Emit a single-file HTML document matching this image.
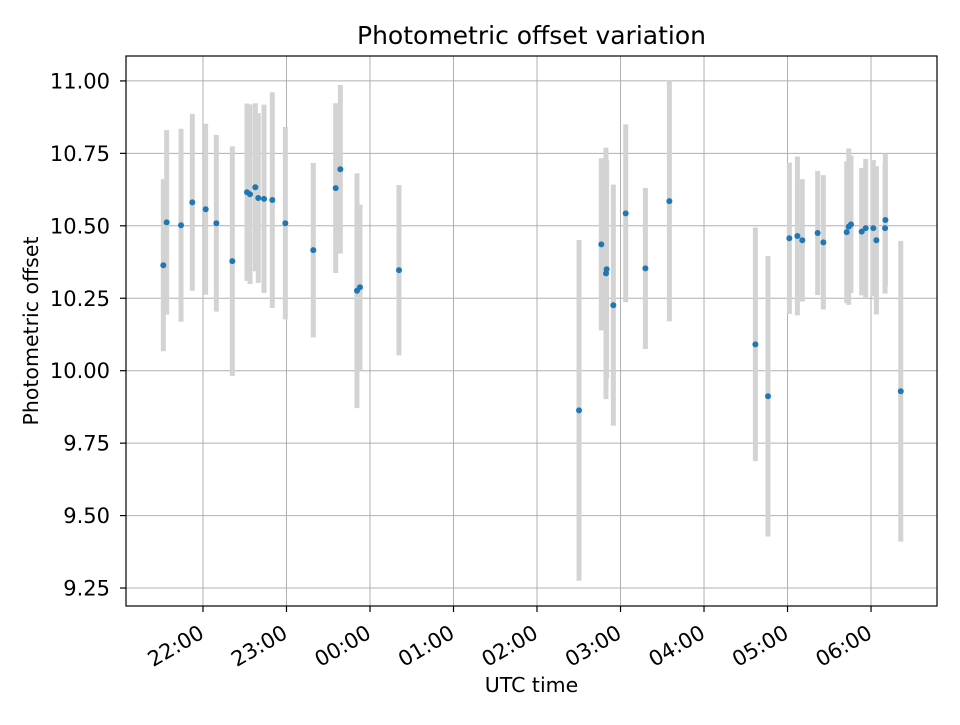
<!DOCTYPE html>
<html><head><meta charset="utf-8"><style>
body{margin:0;background:#fff;}
svg text{font-family:"DejaVu Sans","Liberation Sans",sans-serif;fill:#000;}
</style></head><body>
<svg id="chart" width="960" height="720" xmlns="http://www.w3.org/2000/svg">
<rect width="960" height="720" fill="#fff"/>
<g id="grid"></g><g id="bars"></g><g id="pts"></g><g id="axes"></g>
</svg>
<script>
// hours relative to 22:00
const times=[-0.475,-0.435,-0.263,-0.128,0.032,0.16,0.351,0.527,0.563,0.627,0.662,0.731,0.83,0.986,1.321,1.589,1.645,1.844,1.88,2.347,4.503,4.77,4.834,4.826,4.914,5.062,5.298,5.585,6.615,6.766,7.022,7.118,7.177,7.361,7.429,7.709,7.733,7.76,7.888,7.936,8.027,8.064,8.168,8.172,8.356];
const offsets=[10.364,10.512,10.502,10.581,10.557,10.509,10.378,10.616,10.609,10.633,10.596,10.593,10.589,10.509,10.416,10.63,10.695,10.276,10.288,10.347,9.863,10.436,10.35,10.336,10.226,10.543,10.353,10.585,10.091,9.912,10.457,10.465,10.45,10.475,10.443,10.478,10.497,10.505,10.48,10.492,10.492,10.45,10.492,10.52,9.929];
const errors=[0.297,0.318,0.333,0.305,0.295,0.305,0.396,0.306,0.31,0.29,0.293,0.325,0.372,0.332,0.301,0.293,0.291,0.405,0.285,0.294,0.588,0.297,0.377,0.434,0.416,0.307,0.278,0.415,0.403,0.484,0.261,0.274,0.211,0.214,0.232,0.245,0.27,0.237,0.22,0.239,0.235,0.256,0.226,0.229,0.519];
const xTickLabels=["22:00","23:00","00:00","01:00","02:00","03:00","04:00","05:00","06:00"];
const xTickVals=[0,1,2,3,4,5,6,7,8];
const yTickVals=[9.25,9.5,9.75,10,10.25,10.5,10.75,11];
const yTickLabels=["9.25","9.50","9.75","10.00","10.25","10.50","10.75","11.00"];

const L=126,R=937,T=56,B=606;
const xMin=-0.922,xMax=8.79,yMin=9.188,yMax=11.086;
const X=h=>L+(h-xMin)/(xMax-xMin)*(R-L);
const Y=v=>B-(v-yMin)/(yMax-yMin)*(B-T);
const NS="http://www.w3.org/2000/svg";
function mk(tag,attrs,parent){const e=document.createElementNS(NS,tag);for(const k in attrs)e.setAttribute(k,attrs[k]);parent.appendChild(e);return e;}
const grid=document.getElementById('grid'),bars=document.getElementById('bars'),pts=document.getElementById('pts'),axes=document.getElementById('axes');

xTickVals.forEach((t,i)=>{
  const x=X(t);
  const g=mk('line',{x1:x,x2:x,y1:T,y2:B,stroke:'#b0b0b0','stroke-width':1},grid);
  
  
  mk('line',{x1:x,x2:x,y1:B,y2:B+6,stroke:'#000','stroke-width':1.2},axes);
  const tx=mk('text',{x:0,y:15,'font-size':'21','text-anchor':'end',transform:`translate(${x-5} ${B+18}) rotate(-30)`},axes);
  tx.textContent=xTickLabels[i];
  
  
});
yTickVals.forEach((v,i)=>{
  const y=Y(v);
  const g=mk('line',{x1:L,x2:R,y1:y,y2:y,stroke:'#b0b0b0','stroke-width':1},grid);
  
  
  mk('line',{x1:L-6,x2:L,y1:y,y2:y,stroke:'#000','stroke-width':1.2},axes);
  const tx=mk('text',{x:L-16,y:y+7.5,'font-size':'21','text-anchor':'end'},axes);
  tx.textContent=yTickLabels[i];
  
  
});
times.forEach((t,i)=>{
  const x=X(t);
  const b=mk('line',{x1:x,x2:x,y1:Y(offsets[i]+errors[i]),y2:Y(offsets[i]-errors[i]),stroke:'#d3d3d3','stroke-width':5},bars);
  
  
  const c=mk('circle',{cx:x,cy:Y(offsets[i]),r:3,fill:'#1f77b4'},pts);
  
  
});
const fr=mk('rect',{x:L,y:T,width:R-L,height:B-T,fill:'none',stroke:'#000','stroke-width':1.2},axes);


const ti=mk('text',{x:(L+R)/2,y:44,'font-size':'25','text-anchor':'middle'},axes);
ti.textContent='Photometric offset variation';


const xl=mk('text',{x:(L+R)/2,y:692,'font-size':'20.5','text-anchor':'middle'},axes);
xl.textContent='UTC time';


const yl=mk('text',{x:38,y:331,'font-size':'20.5','text-anchor':'middle',transform:'rotate(-90 38 331)'},axes);
yl.textContent='Photometric offset';


</script>
</body></html>
